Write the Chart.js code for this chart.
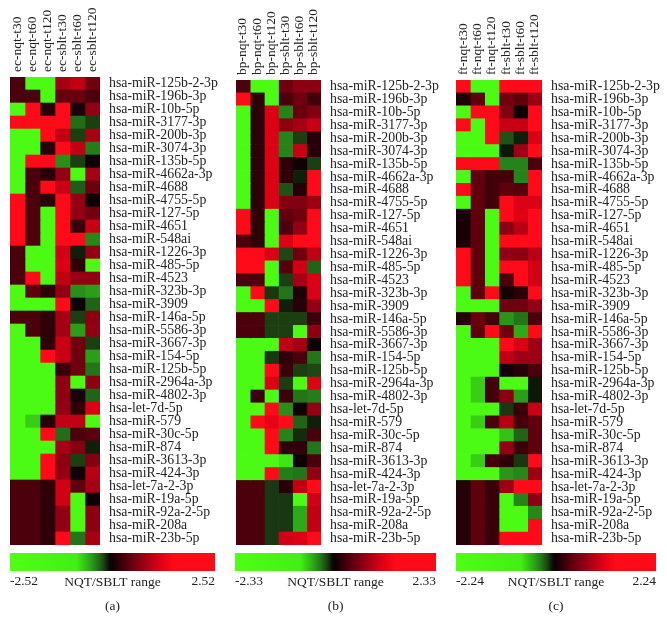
<!DOCTYPE html>
<html>
<head>
<meta charset="utf-8">
<script src="https://cdn.jsdelivr.net/npm/chart.js@4"></script>
<style>
  body { margin: 0; background: #fff; }
  canvas { position: absolute; filter: blur(0.35px); }
</style>
</head>
<body>
<canvas id="heatA" style="left:0;top:0" width="222" height="550"></canvas>
<canvas id="heatB" style="left:222px;top:0" width="222" height="550"></canvas>
<canvas id="heatC" style="left:444px;top:0" width="223" height="550"></canvas>
<canvas id="barA" style="left:0;top:550px" width="222" height="83"></canvas>
<canvas id="barB" style="left:222px;top:550px" width="222" height="83"></canvas>
<canvas id="barC" style="left:444px;top:550px" width="223" height="83"></canvas>
<script>
const mirnas = ['hsa-miR-125b-2-3p','hsa-miR-196b-3p','hsa-miR-10b-5p','hsa-miR-3177-3p','hsa-miR-200b-3p','hsa-miR-3074-3p','hsa-miR-135b-5p','hsa-miR-4662a-3p','hsa-miR-4688','hsa-miR-4755-5p','hsa-miR-127-5p','hsa-miR-4651','hsa-miR-548ai','hsa-miR-1226-3p','hsa-miR-485-5p','hsa-miR-4523','hsa-miR-323b-3p','hsa-miR-3909','hsa-miR-146a-5p','hsa-miR-5586-3p','hsa-miR-3667-3p','hsa-miR-154-5p','hsa-miR-125b-5p','hsa-miR-2964a-3p','hsa-miR-4802-3p','hsa-let-7d-5p','hsa-miR-579','hsa-miR-30c-5p','hsa-miR-874','hsa-miR-3613-3p','hsa-miR-424-3p','hsa-let-7a-2-3p','hsa-miR-19a-5p','hsa-miR-92a-2-5p','hsa-miR-208a','hsa-miR-23b-5p'];

const ecColumns = ['ec-nqt-t30','ec-nqt-t60','ec-nqt-t120','ec-sblt-t30','ec-sblt-t60','ec-sblt-t120'];
const bpColumns = ['bp-nqt-t30','bp-nqt-t60','bp-nqt-t120','bp-sblt-t30','bp-sblt-t60','bp-sblt-t120'];
const ftColumns = ['ft-nqt-t30','ft-nqt-t60','ft-nqt-t120','ft-sblt-t30','ft-sblt-t60','ft-sblt-t120'];

// one row per miRNA
const ecValues = [
  [0.3,-2,-2,0.8,0.95,0.5],
  [0.3,0.3,-2,0.45,0.45,0.3],
  [-2,2,0.12,1.5,0.05,0.7],
  [2,2,2,1.5,-0.33,-0.2],
  [-2,-2,2,0.95,-0.2,0.8],
  [-2,-2,0.12,1.5,0.95,-0.38],
  [-2,2,2,-0.45,-0.2,0],
  [-2,0.3,0.12,0.7,-2,0.8],
  [-2,0.3,2,1,-0.28,0.45],
  [2,0.3,0.12,1.5,0.7,0],
  [2,0.3,-2,1.5,0.7,0.5],
  [2,0.3,-2,1.5,0.2,1],
  [2,0.3,-2,1.5,1.5,-0.42],
  [0.3,-2,-2,1.05,-0.12,0.7],
  [0.3,-2,-2,1.1,0.15,-2],
  [0.3,2,-2,0.95,0.7,0.7],
  [-2,0.4,0.15,0.7,-0.45,-0.5],
  [-2,-2,-2,2,0,-0.3],
  [0.3,0.3,0.15,0.8,-0.2,0.65],
  [-2,0.3,0.15,0.8,-0.5,0.7],
  [-2,-2,0.15,1,0.5,-0.2],
  [-2,-2,2,1,0.5,-0.5],
  [-2,-2,-2,0.2,0.5,-0.35],
  [-2,-2,-2,0.65,-2,0.65],
  [-2,-2,-2,0.65,0.05,-0.3],
  [-2,-2,-2,0.7,0.15,1.1],
  [-2,-0.7,0.12,0.95,0.95,-2],
  [-2,-2,2,-0.33,0.3,0.38],
  [-2,-2,-2,0.8,0.6,-0.12],
  [-2,-2,2,0.65,-0.2,0.6],
  [-2,-2,2,0.7,0,0.9],
  [0.3,0.3,0.15,1.05,0.4,0.8],
  [0.3,0.3,0.15,1.05,-2,0],
  [0.3,0.3,0.15,0.7,-2,0.65],
  [0.3,0.3,0.15,0.7,-2,0.65],
  [0.3,0.3,0.15,2,-0.35,0.8]
];

const bpValues = [
  [0.3,-2,-2,0.5,0.65,0.65],
  [2,0.15,-2,0.3,0.5,0.25],
  [-2,0.15,1.1,-0.4,0.45,0.6],
  [-2,0.15,1.1,0.65,0.8,1],
  [-2,0.15,1.1,-0.4,-0.2,0.12],
  [-2,0.15,1.1,-0.4,1,0.12],
  [-2,0.15,1.1,0.15,0,-0.2],
  [-2,0.15,1.1,0.15,-0.12,2],
  [-2,0.15,1.1,-0.25,0.1,2],
  [-2,0.15,1.1,0.6,0.6,0.75],
  [2,0.15,-2,0.4,0.5,2],
  [2,0.15,-2,0.3,0.7,2],
  [0.3,0.15,-2,1.1,2,2],
  [2,2,1.1,-0.22,0.5,0.95],
  [2,2,-2,0.35,1.05,-0.3],
  [0.3,0.3,-2,-0.2,0.8,1.1],
  [-2,2,-0.18,-0.35,0.08,1.1],
  [-2,-2,2,-0.12,0.12,0.7],
  [0.3,0.3,-0.2,-0.2,-0.2,0.22],
  [0.3,0.3,-0.2,-0.2,-2,0.65],
  [-2,-2,-2,0.95,0.8,0],
  [-2,-2,-0.18,0.15,0.3,-0.35],
  [-2,-2,2,0.22,-0.2,-0.22],
  [-2,-2,1.1,-0.2,-2,1.1],
  [-2,0.22,-2,0.22,-0.35,-0.38],
  [-2,-2,2,-0.45,0,0.7],
  [-2,2,1.2,2,-0.3,-0.12],
  [-2,-2,2,-0.4,-0.15,0.28],
  [-2,-2,2,0.15,0.15,-0.35],
  [-2,-2,-2,-0.8,0,0.28],
  [-2,-2,2,-0.38,-0.35,0.7],
  [0.3,0.3,-0.18,0.12,0.95,2],
  [0.3,0.3,-0.18,-0.18,-2,1.05],
  [0.3,0.3,-0.18,-0.18,-0.55,0.95],
  [0.3,0.3,-0.18,-0.18,-0.55,0.95],
  [0.3,0.3,-0.18,1.05,1.1,2]
];

const ftValues = [
  [2,-2,-2,2,2,2],
  [0.08,0.4,-2,0.5,0.4,0.75],
  [-2,2,2,0.6,0,2],
  [2,-2,2,1,1,2],
  [-2,-2,2,-0.25,-0.12,1.1],
  [-2,-2,-2,-0.1,0.75,2],
  [2,2,2,-0.4,-0.4,0.3],
  [-2,0.4,0.25,0.25,-0.4,2],
  [2,0.4,0.25,0.4,0.35,2],
  [-2,0.4,0.25,2,1.1,1.1],
  [0.05,0.4,-2,2,1.15,2],
  [0.05,0.4,-2,0.65,0.9,2],
  [0.05,0.4,-2,2,2,2],
  [2,0.4,-2,0.7,0.65,0.9],
  [2,0.4,-2,2,2,1.05],
  [2,0.4,-2,0.3,2,1.05],
  [-2,0.4,2,0.03,0.12,2],
  [-2,-2,-2,0.5,0.5,0.7],
  [0.1,0.45,0.25,-0.47,-0.35,0.3],
  [-2,0.4,2,0.5,-0.55,2],
  [-2,-2,-2,2,1.1,0.75],
  [-2,-2,-2,0.95,0.75,0.75],
  [-2,-2,-2,0.03,0.12,0.3],
  [-2,-0.7,0.25,-2,-2,-0.1],
  [-2,-0.7,0.25,0.65,-0.5,-0.1],
  [-2,-2,-2,-0.18,0.2,1],
  [-2,-0.7,0.3,0.9,0.25,0.4],
  [-2,-2,-2,-0.65,-0.3,0.4],
  [-2,-2,-2,0.7,0.2,0.4],
  [-2,-0.7,0.25,0.15,-0.18,2],
  [-2,-2,-2,-0.47,-0.42,0.75],
  [0.1,0.4,0.2,0.75,2,2],
  [0.1,0.4,0.2,-2,-0.4,0.65],
  [0.1,0.4,0.2,-2,-2,-0.42],
  [0.1,0.4,0.2,-2,-2,2],
  [0.1,0.4,0.2,2,2,2]
];

const ranges = [2.52, 2.33, 2.24];
const panelLetters = ['(a)', '(b)', '(c)'];
const colourRangeName = 'NQT/SBLT range';

const serif = '"Liberation Serif", serif';
const textColor = '#222';

// colour stops of the legend bar, position is fraction of the half range
const colourStops = [
  [-1, 80, 255, 20], [-0.35, 65, 240, 20], [-0.22, 45, 165, 25], [-0.15, 35, 120, 25],
  [-0.09, 30, 70, 20], [-0.03, 10, 10, 5], [0, 15, 0, 5], [0.1, 65, 0, 10], [0.2, 110, 0, 15],
  [0.32, 160, 0, 20], [0.46, 220, 0, 20], [0.6, 255, 10, 25], [1, 255, 10, 25]
];

function colourFor(t) {
  t = Math.max(-1, Math.min(1, t));
  for (let i = 1; i < colourStops.length; i++) {
    const a = colourStops[i - 1], b = colourStops[i];
    if (t <= b[0]) {
      const f = (t - a[0]) / (b[0] - a[0]);
      const mix = k => Math.round(a[k] + (b[k] - a[k]) * f);
      return `rgb(${mix(1)},${mix(2)},${mix(3)})`;
    }
  }
}

function heatmap(canvasId, columns, values, top, left, right) {
  const canvas = document.getElementById(canvasId);
  // one stacked dataset per column so the cells sit side by side on each row
  const datasets = columns.map((name, c) => ({
    label: name,
    data: mirnas.map(() => 1),
    // the table was read with a scale of 2.4, see colourStops
    backgroundColor: values.map(row => colourFor(row[c] / 2.4)),
    borderWidth: 0,
    barPercentage: 1,
    categoryPercentage: 1
  }));

  new Chart(canvas, {
    type: 'bar',
    data: { labels: mirnas, datasets: datasets },
    options: {
      indexAxis: 'y',
      responsive: false,
      animation: false,
      layout: { padding: { left: left, bottom: 5 } },
      plugins: { legend: { display: false }, tooltip: { enabled: false } },
      scales: {
        x: {
          stacked: true,
          position: 'top',
          min: 0,
          max: columns.length,
          grid: { display: false, drawTicks: false },
          border: { display: false },
          afterBuildTicks: s => { s.ticks = columns.map((n, i) => ({ value: i + 0.5 })); },
          afterFit: s => { s.height = top; s.paddingLeft = 0; s.paddingRight = 0; },
          ticks: {
            autoSkip: false,
            minRotation: 90,
            maxRotation: 90,
            padding: 5,
            labelOffset: 16, // rotated labels on a top axis land left of the column
            color: textColor,
            font: { family: serif, size: 13.5 },
            callback: (v, i) => columns[i]
          }
        },
        y: {
          stacked: true,
          position: 'right',
          grid: { display: false, drawTicks: false },
          border: { display: false },
          afterFit: s => { s.width = canvas.width - right; s.paddingTop = 0; s.paddingBottom = 0; },
          ticks: {
            autoSkip: false,
            padding: 9,
            color: textColor,
            font: { family: serif, size: 13.8 }
          }
        }
      }
    }
  });
}

// end labels of the legend bar sit inside its ends, ticks can't do that
const rangeLabels = {
  id: 'rangeLabels',
  afterDraw(chart) {
    const x = chart.scales.x;
    const ctx = chart.ctx;
    const y = chart.chartArea.bottom + 10;
    ctx.save();
    ctx.fillStyle = textColor;
    ctx.font = '13.5px ' + serif;
    ctx.textBaseline = 'middle';
    ctx.textAlign = 'left';
    ctx.fillText('-' + x.max.toFixed(2), x.left, y);
    ctx.textAlign = 'right';
    ctx.fillText(x.max.toFixed(2), x.right, y);
    ctx.restore();
  }
};

function legendBar(canvasId, range, letter, left, right) {
  const canvas = document.getElementById(canvasId);
  new Chart(canvas, {
    type: 'bar',
    plugins: [rangeLabels],
    data: {
      labels: [colourRangeName],
      datasets: [{
        data: [[-range, range]],
        barPercentage: 1,
        categoryPercentage: 1,
        borderWidth: 0,
        backgroundColor: ctx => {
          const area = ctx.chart.chartArea;
          if (!area) return '#000';
          const g = ctx.chart.ctx.createLinearGradient(area.left, 0, area.right, 0);
          colourStops.forEach(s => g.addColorStop((s[0] + 1) / 2, `rgb(${s[1]},${s[2]},${s[3]})`));
          return g;
        }
      }]
    },
    options: {
      indexAxis: 'y',
      responsive: false,
      animation: false,
      layout: { padding: { left: left, right: canvas.width - right, top: 3 } },
      plugins: { legend: { display: false }, tooltip: { enabled: false } },
      scales: {
        y: { display: false },
        x: {
          min: -range,
          max: range,
          grid: { display: false, drawTicks: false },
          border: { display: false },
          afterBuildTicks: s => { s.ticks = [{ value: 0 }]; },
          afterFit: s => { s.height = 62; s.paddingLeft = 0; s.paddingRight = 0; },
          ticks: {
            padding: 3,
            maxRotation: 0,
            color: textColor,
            font: { family: serif, size: 13.5 },
            callback: () => colourRangeName
          },
          title: {
            display: true,
            text: letter,
            color: textColor,
            font: { family: serif, size: 13.5 },
            padding: { top: 0, bottom: 18 }
          }
        }
      }
    }
  });
}

heatmap('heatA', ecColumns, ecValues, 77, 10, 100);
heatmap('heatB', bpColumns, bpValues, 80, 14, 99);
heatmap('heatC', ftColumns, ftValues, 80, 12, 98);
legendBar('barA', ranges[0], panelLetters[0], 10, 215);
legendBar('barB', ranges[1], panelLetters[1], 13, 214);
legendBar('barC', ranges[2], panelLetters[2], 12, 212);
</script>
</body>
</html>
